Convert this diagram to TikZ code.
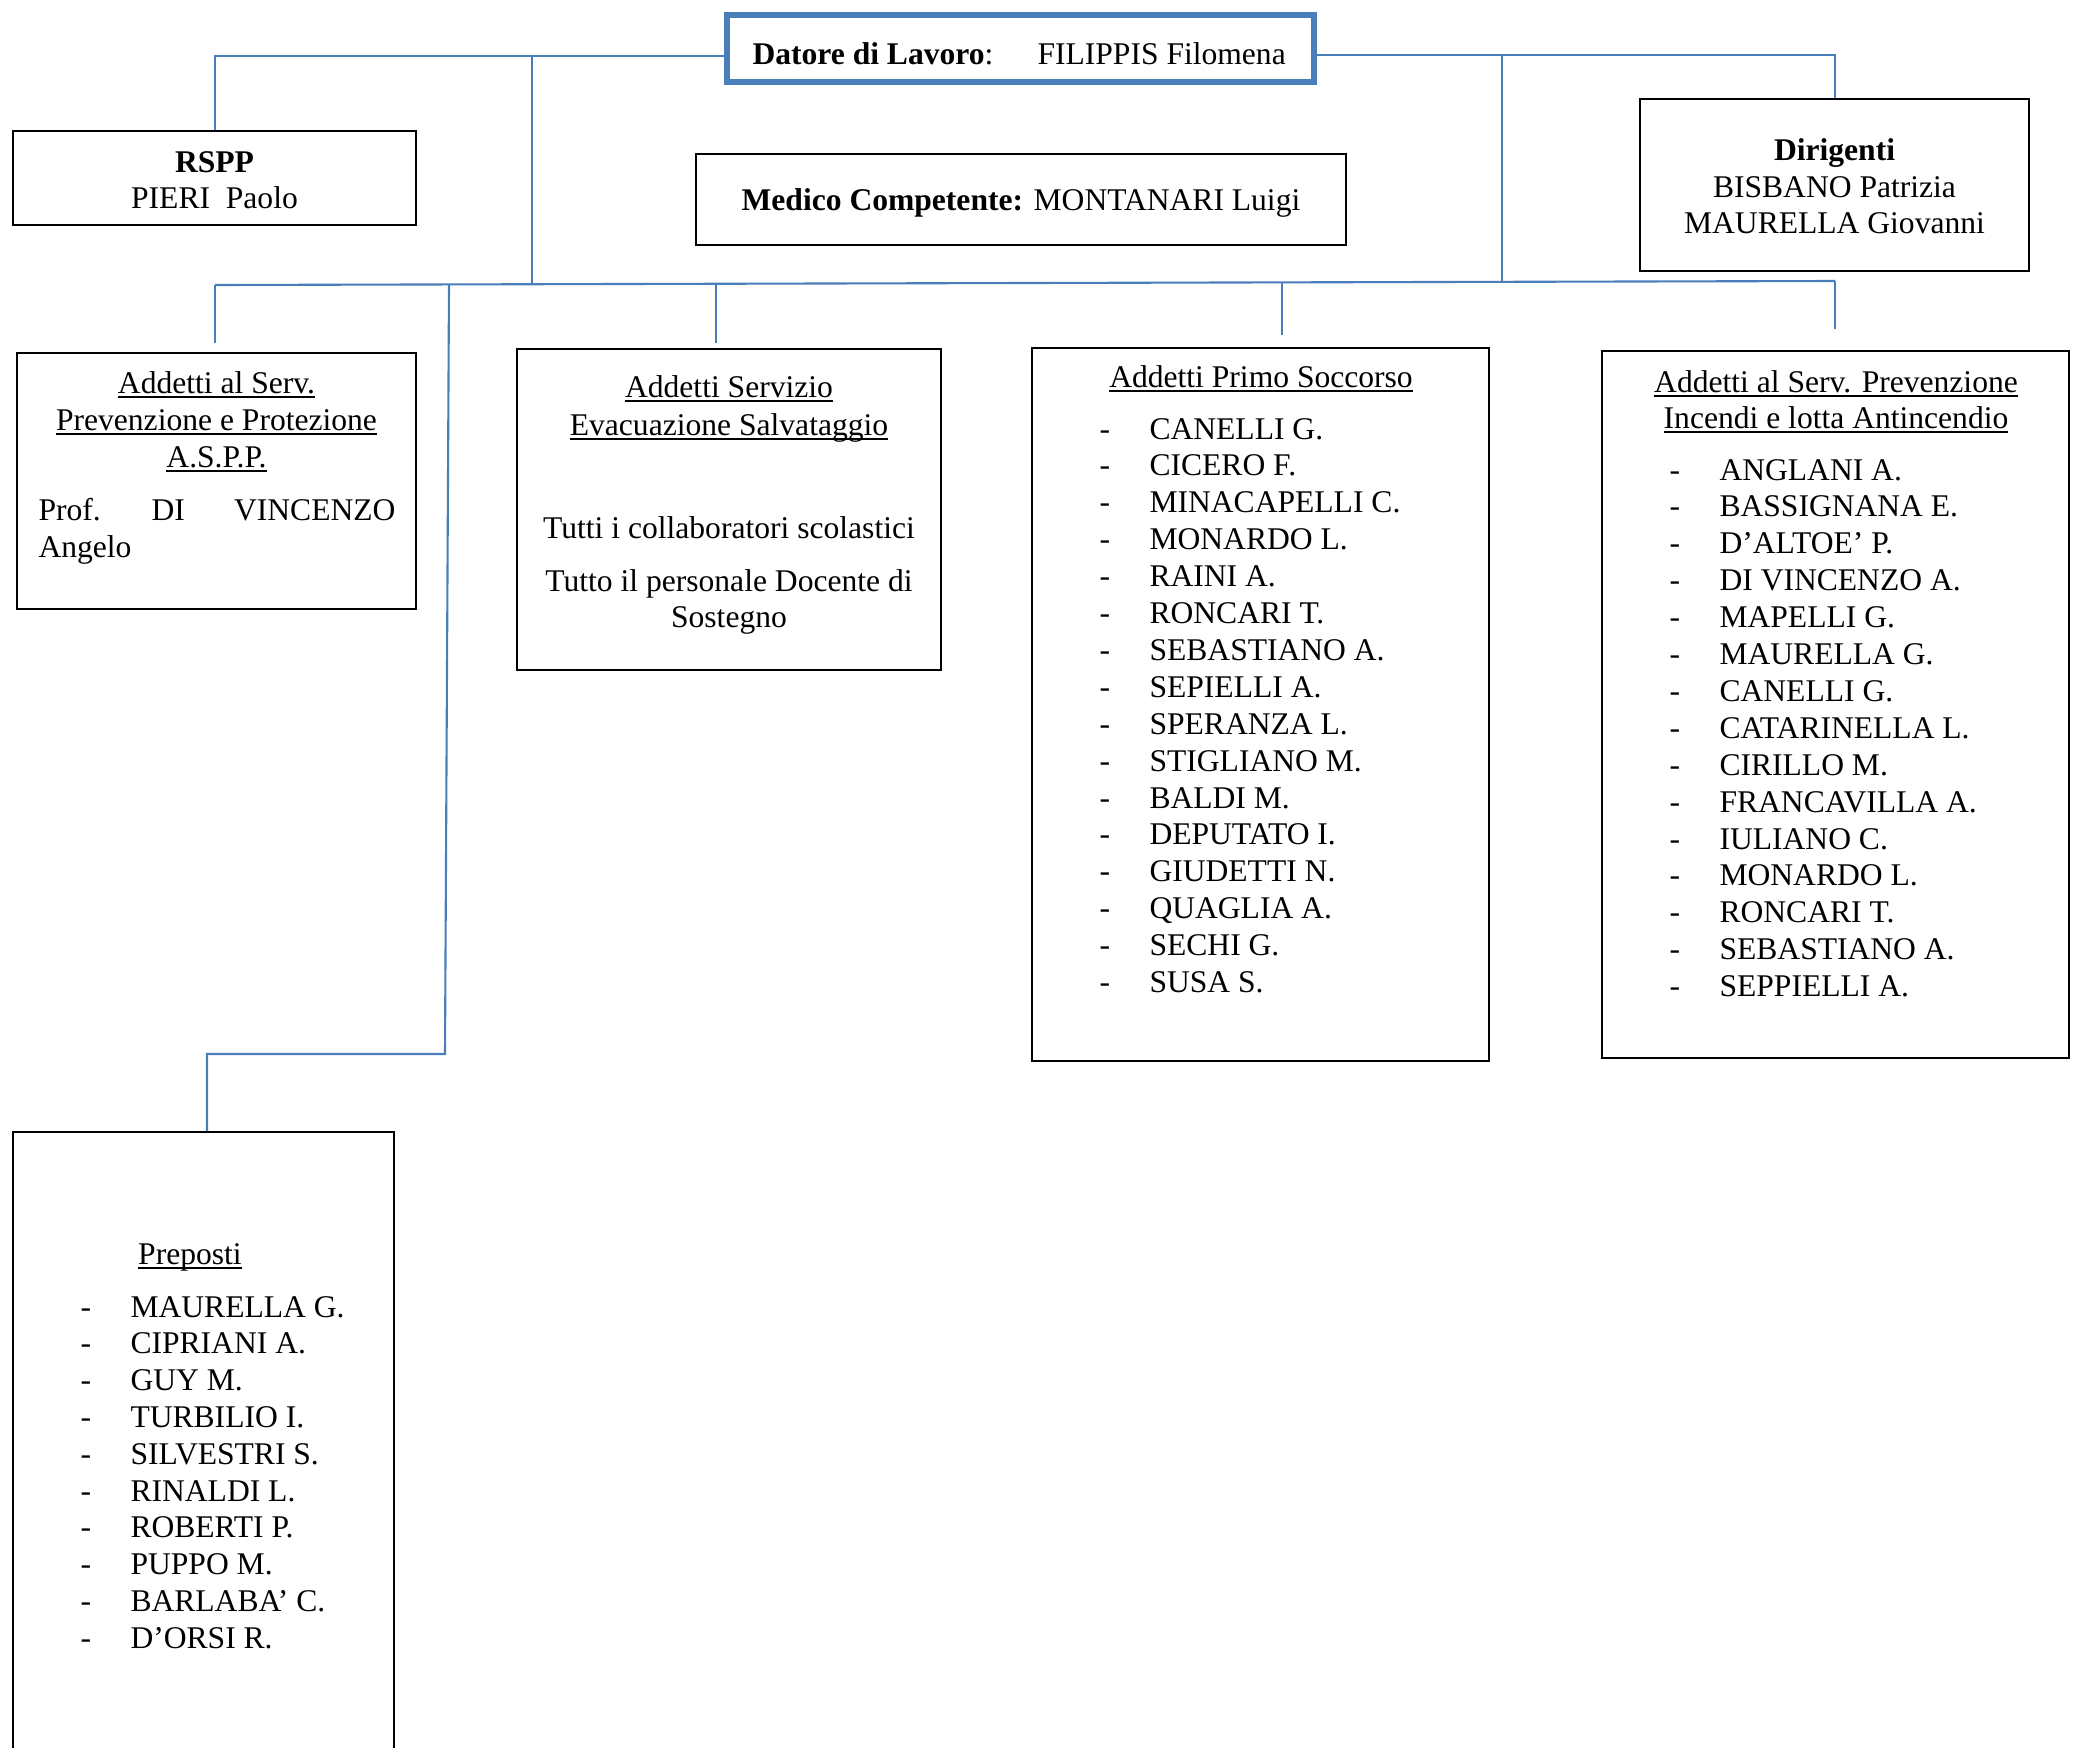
\documentclass[tikz,border=0pt]{standalone}
\usepackage{fontspec}
\setmainfont{Liberation Serif}
\usetikzlibrary{fit}
\definecolor{conblue}{RGB}{74,126,187}
\newsavebox\ulbox
\newcommand{\undl}[1]{\sbox\ulbox{#1}\rlap{\rule[-1.9pt]{\wd\ulbox}{0.6pt}}\usebox\ulbox}
\begin{document}
\begin{tikzpicture}[x=0.38pt,y=-0.38pt,
  box/.style={draw=black, line width=0.8pt, inner sep=0pt},
  conn/.style={draw=conblue, line width=0.8pt},
  txt/.style={inner sep=0pt, anchor=base, font=\fontsize{12pt}{13.8pt}\selectfont},
  txtl/.style={txt, anchor=base west},
  txtr/.style={txt, anchor=base east}]
\clip (0,0) rectangle (2079,1747);
\fill[white] (0,0) rectangle (2079,1747);

% ---------- boxes ----------
\node[box, draw=conblue, line width=2pt, fit={(727,15) (1314,82)}] (datore) {};
\node[txtl] (datoreA) at (752,64) {\bfseries Datore di Lavoro\mdseries:};
\node[txtl] (datoreB) at (1037,64) {FILIPPIS Filomena};

\node[box, fit={(13,131) (416,225)}] (rspp) {};
\node[txt] (rsppA) at (214.5,172) {\bfseries RSPP};
\node[txt] (rsppB) at (214.5,208) {PIERI\ \ Paolo};

\node[box, fit={(696,154) (1346,245)}] (medico) {};
\node[txt] (medicoT) at (1021,210) {\textbf{Medico Competente:} MONTANARI Luigi};

\node[box, fit={(1640,99) (2029,271)}] (dirig) {};
\node[txt] (dirigA) at (1834.5,160) {\bfseries Dirigenti};
\node[txt] (dirigB) at (1834.5,197) {BISBANO Patrizia};
\node[txt] (dirigC) at (1834.5,233) {MAURELLA Giovanni};

\node[box, fit={(17,353) (416,609)}] (aspp) {};
\node[txt] (asppA) at (216.5,393) {\undl{Addetti al Serv.}};
\node[txt] (asppB) at (216.5,430) {\undl{Prevenzione e Protezione}};
\node[txt] (asppC) at (216.5,467) {\undl{A.S.P.P.}};
\node[txtl] (asppD) at (38,520) {Prof.};
\node[txtl] (asppE) at (151,520) {DI};
\node[txtr] (asppF) at (396,520) {VINCENZO};
\node[txtl] (asppG) at (38,557) {Angelo};

\node[box, fit={(517,349) (941,670)}] (evac) {};
\node[txt] (evacA) at (729,397) {\undl{Addetti Servizio}};
\node[txt] (evacB) at (729,435) {\undl{Evacuazione Salvataggio}};
\node[txt] (evacC) at (729,538) {Tutti i collaboratori scolastici};
\node[txt] (evacD) at (729,591) {Tutto il personale Docente di};
\node[txt] (evacE) at (729,627) {Sostegno};

\node[box, fit={(1032,348) (1489,1061)}] (primo) {};
\node[txt] (primoT) at (1261,387) {\undl{Addetti Primo Soccorso}};
\foreach \n [count=\i from 0] in {CANELLI G., CICERO F., MINACAPELLI C., MONARDO L., RAINI A., RONCARI T., SEBASTIANO A., SEPIELLI A., SPERANZA L., STIGLIANO M., BALDI M., DEPUTATO I., GIUDETTI N., QUAGLIA A., SECHI G., SUSA S.}{
  \node[txtl] (primoD\i) at (1099,439+\i*36.9) {-};
  \node[txtl] (primoN\i) at (1149,439+\i*36.9) {\n};
}

\node[box, fit={(1602,351) (2069,1058)}] (incendi) {};
\node[txt] (incendiA) at (1836,392) {\undl{Addetti al Serv. Prevenzione}};
\node[txt] (incendiB) at (1836,428) {\undl{Incendi e lotta Antincendio}};
\foreach \n [count=\i from 0] in {ANGLANI A., BASSIGNANA E., D’ALTOE’ P., DI VINCENZO A., MAPELLI G., MAURELLA G., CANELLI G., CATARINELLA L., CIRILLO M., FRANCAVILLA A., IULIANO C., MONARDO L., RONCARI T., SEBASTIANO A., SEPPIELLI A.}{
  \node[txtl] (incD\i) at (1669,480+\i*36.9) {-};
  \node[txtl] (incN\i) at (1719,480+\i*36.9) {\n};
}

\node[box, fit={(13,1132) (394,1800)}] (prep) {};
\node[txt] (prepT) at (190,1264) {\undl{Preposti}};
\foreach \n [count=\i from 0] in {MAURELLA G., CIPRIANI A., GUY M., TURBILIO I., SILVESTRI S., RINALDI L., ROBERTI P., PUPPO M., BARLABA’ C., D’ORSI R.}{
  \node[txtl] (prepD\i) at (80,1317+\i*36.8) {-};
  \node[txtl] (prepN\i) at (130,1317+\i*36.8) {\n};
}

% ---------- connectors ----------
\coordinate (tL) at (215,56);
\coordinate (tM1) at (532,56);
\coordinate (tM2) at (1502,55.5);
\coordinate (tR) at (1835,55);
\coordinate (bL) at (215,285);
\coordinate (bM1) at (532,284);
\coordinate (bP) at (449,284.4);
\coordinate (bE) at (716,283.5);
\coordinate (bS) at (1282,282.5);
\coordinate (bM2) at (1502,282);
\coordinate (bR) at (1835,281);
\coordinate (eA) at (215,343);
\coordinate (eE) at (716,343);
\coordinate (eS) at (1282,335);
\coordinate (eI) at (1835,329);
\coordinate (pv) at (445,1054);
\coordinate (ph) at (207,1054);

\draw[conn] (datore.west |- tL) -- (tL) -- (tL |- rspp.north);
\draw[conn] (datore.east |- tR) -- (tR) -- (tR |- dirig.north);
\draw[conn] (tM1) -- (bM1);
\draw[conn] (tM2) -- (bM2);
\draw[conn] (bL) -- (bR);
\draw[conn] (bL) -- (eA);
\draw[conn] (bE) -- (eE);
\draw[conn] (bS) -- (eS);
\draw[conn] (bR) -- (eI);
\draw[conn] (bP) -- (pv) -- (ph) -- (ph |- prep.north);
\end{tikzpicture}
\end{document}
